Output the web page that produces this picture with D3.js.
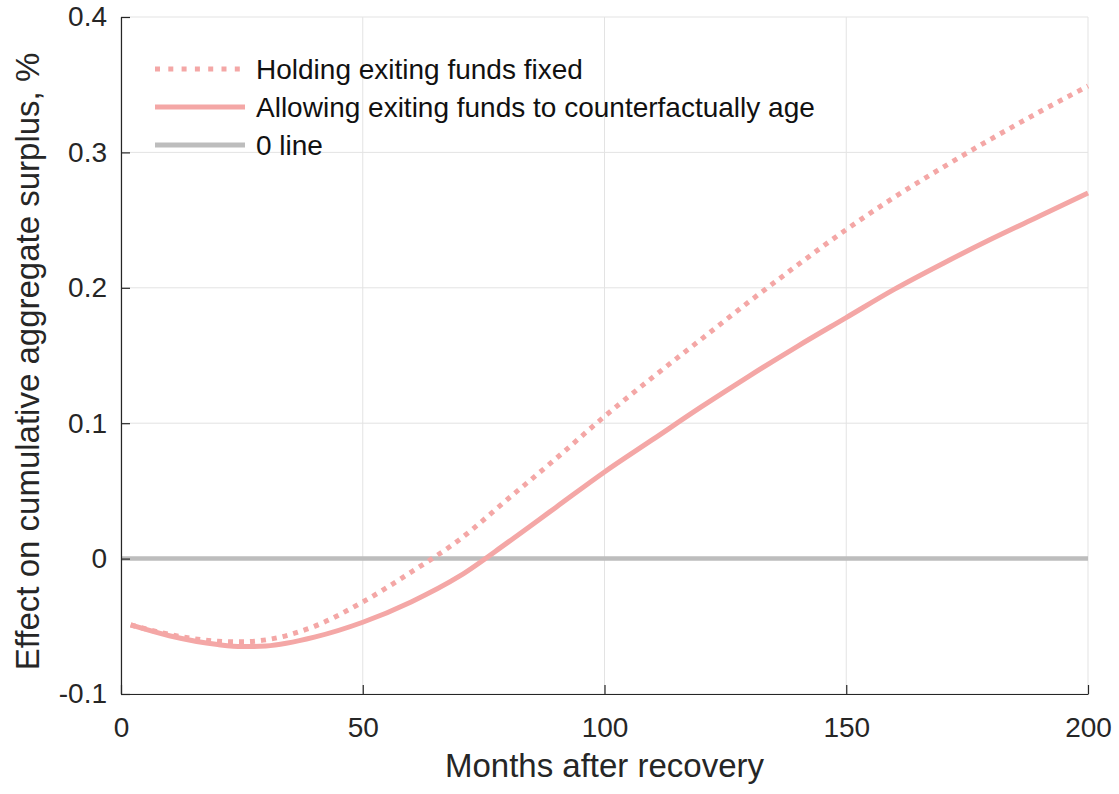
<!DOCTYPE html>
<meta charset="utf-8">
<script src="https://d3js.org/d3.v7.min.js"></script>
<html>
<head>
<style>
  body { margin: 0; background: #fff; }
  text { font-family: "Liberation Sans", Arial, sans-serif; }
</style>
</head>
<body>
<div id="my_dataviz"></div>
<script>
// data
var months = [2, 10, 20, 25, 30, 40, 50, 60, 70, 80, 90, 100, 110, 120, 130, 140, 150, 160, 170, 180, 190, 200];
var holdingFixed = [-0.049, -0.056, -0.061, -0.0615, -0.060, -0.050, -0.032, -0.010, 0.014, 0.044, 0.074, 0.105, 0.134, 0.162, 0.190, 0.217, 0.243, 0.267, 0.289, 0.310, 0.330, 0.349];
var allowingAge = [-0.049, -0.057, -0.0635, -0.065, -0.0645, -0.058, -0.047, -0.032, -0.013, 0.012, 0.038, 0.064, 0.088, 0.112, 0.135, 0.157, 0.178, 0.199, 0.218, 0.236, 0.253, 0.270];
var xTicks = [0, 50, 100, 150, 200];
var yTicks = [-0.1, 0, 0.1, 0.2, 0.3, 0.4];
var legendLabels = ["Holding exiting funds fixed", "Allowing exiting funds to counterfactually age", "0 line"];

var W = 1119, H = 794;
var margin = {top: 17, right: 31, bottom: 100, left: 121},
    width = W - margin.left - margin.right,
    height = H - margin.top - margin.bottom;

var pink = "#f4a7a6", grey = "#bdbdbd";

var svg = d3.select("#my_dataviz")
  .append("svg")
    .attr("width", W)
    .attr("height", H)
  .append("g")
    .attr("transform", "translate(" + margin.left + "," + margin.top + ")");

var x = d3.scaleLinear().domain([0, 200]).range([0, width]);
var y = d3.scaleLinear().domain([-0.1, 0.4]).range([height, 0]);

// grid
svg.append("g").selectAll("line").data(xTicks).enter().append("line")
  .attr("x1", d => x(d)).attr("x2", d => x(d))
  .attr("y1", 0).attr("y2", height)
  .style("stroke", "#e3e3e3").style("stroke-width", 1);
svg.append("g").selectAll("line").data(yTicks).enter().append("line")
  .attr("x1", 0).attr("x2", width)
  .attr("y1", d => y(d)).attr("y2", d => y(d))
  .style("stroke", "#e3e3e3").style("stroke-width", 1);

// zero line
svg.append("line")
  .attr("x1", x(0)).attr("x2", x(200))
  .attr("y1", y(0)).attr("y2", y(0))
  .style("stroke", grey).style("stroke-width", 4.5);

var line = d3.line().x(d => x(d[0])).y(d => y(d[1])).curve(d3.curveMonotoneX);

svg.append("path")
  .datum(d3.zip(months, holdingFixed))
  .attr("d", line)
  .style("fill", "none").style("stroke", pink)
  .style("stroke-width", 5).style("stroke-dasharray", "5,6");

svg.append("path")
  .datum(d3.zip(months, allowingAge))
  .attr("d", line)
  .style("fill", "none").style("stroke", pink)
  .style("stroke-width", 5);

// axes
var xAxis = svg.append("g")
  .attr("transform", "translate(0," + height + ")")
  .call(d3.axisBottom(x).tickValues(xTicks).tickSize(-9).tickPadding(23).tickSizeOuter(0));
var yAxis = svg.append("g")
  .call(d3.axisLeft(y).tickValues(yTicks).tickSize(-9).tickPadding(14).tickSizeOuter(0)
    .tickFormat(d => d === 0 ? "0" : d3.format(".1f")(d).replace("\u2212", "-")));
[xAxis, yAxis].forEach(function(a) {
  a.select(".domain").style("stroke", "#262626").style("stroke-width", 1.2);
  a.selectAll(".tick line").style("stroke", "#262626").style("stroke-width", 1.2);
  a.selectAll("text").style("font-size", "28px").style("fill", "#262626")
    .style("font-family", "'Liberation Sans', Arial, sans-serif");
});

// axis labels
svg.append("text")
  .attr("x", width / 2).attr("y", height + 83)
  .attr("text-anchor", "middle")
  .style("font-size", "33px").style("fill", "#262626")
  .text("Months after recovery");
svg.append("text")
  .attr("transform", "translate(" + (-82) + "," + (height / 2 + 6) + ")rotate(-90)")
  .attr("text-anchor", "middle")
  .style("font-size", "33px").style("fill", "#262626")
  .text("Effect on cumulative aggregate surplus, %");

// legend
var legend = svg.append("g").attr("transform", "translate(34,52)");
legendLabels.forEach(function(lab, i) {
  var g = legend.append("g").attr("transform", "translate(0," + (i * 38) + ")");
  g.append("line")
    .attr("x1", 0).attr("x2", 90).attr("y1", 0).attr("y2", 0)
    .style("stroke", i === 2 ? grey : pink)
    .style("stroke-width", 5)
    .style("stroke-dasharray", i === 0 ? "5,8.3" : null);
  g.append("text")
    .attr("x", 101).attr("y", 0).attr("dy", "0.35em")
    .style("font-size", "28px").style("fill", "#111")
    .text(lab);
});
</script>
</body>
</html>
